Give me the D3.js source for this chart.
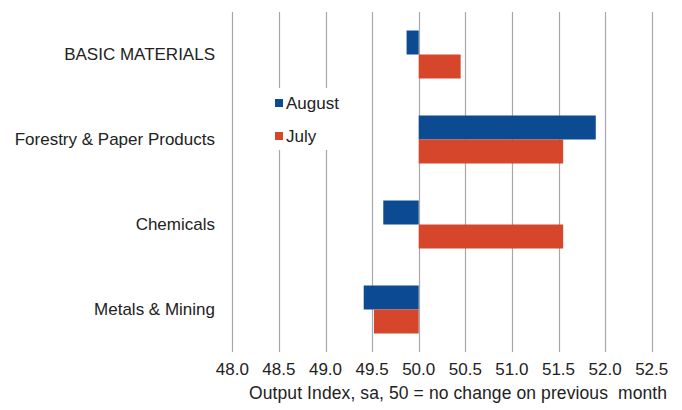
<!DOCTYPE html>
<html><head><meta charset="utf-8">
<script src="https://cdn.jsdelivr.net/npm/d3@7"></script>
<style>body{margin:0;background:#fff;}svg{display:block;font-family:Arial,"Liberation Sans",sans-serif;}</style>
</head><body>
<svg id="chart" width="682" height="410"></svg>
<script>
const categories = ["BASIC MATERIALS", "Forestry & Paper Products", "Chemicals", "Metals & Mining"];
const august = [49.87, 51.90, 49.62, 49.41];
const july = [50.45, 51.55, 51.55, 49.52];
const seriesNames = ["August", "July"];
const seriesColors = ["#0C4A91", "#D5462B"];
const tickValues = [48.0, 48.5, 49.0, 49.5, 50.0, 50.5, 51.0, 51.5, 52.0, 52.5];
const axisTitle = "Output Index, sa, 50 = no change on previous  month";

const svg = d3.select("#chart");
const x = d3.scaleLinear().domain([48, 52.5]).range([232.3, 651.7]);
const y = d3.scaleBand().domain(categories).range([12, 352]).paddingInner(37/85).paddingOuter(37/170);
const ySub = d3.scaleBand().domain(seriesNames).range([0, y.bandwidth()]);

// gridlines
svg.append("g").selectAll("line").data(tickValues).join("line")
  .attr("x1", d => Math.round(x(d)) + 0.5).attr("x2", d => Math.round(x(d)) + 0.5)
  .attr("y1", 12).attr("y2", 352)
  .attr("stroke", "#a8a8a8").attr("stroke-width", 1.2);

// tick labels
svg.append("g").selectAll("text").data(tickValues).join("text")
  .attr("x", d => x(d)).attr("y", 375)
  .attr("text-anchor", "middle").attr("font-size", 17).attr("fill", "#222")
  .text(d => d3.format(".1f")(d));

svg.append("text").attr("x", 458).attr("y", 399).attr("text-anchor", "middle")
  .attr("font-size", 17.5).attr("fill", "#222").style("white-space", "pre")
  .attr("textLength", 418).attr("lengthAdjust", "spacing").text(axisTitle);

// category labels
svg.append("g").selectAll("text").data(categories).join("text")
  .attr("x", 215).attr("y", d => y(d) + y.bandwidth() / 2).attr("dy", "0.35em")
  .attr("text-anchor", "end").attr("font-size", 17).attr("fill", "#222")
  .text(d => d);

// bars
const data = categories.map((c, i) => ({c, vals: [august[i], july[i]]}));
const groups = svg.append("g").selectAll("g").data(data).join("g")
  .attr("transform", d => `translate(0,${y(d.c)})`);
groups.selectAll("rect").data(d => d.vals.map((v, j) => ({v, s: seriesNames[j], j}))).join("rect")
  .attr("x", d => x(Math.min(50, d.v)))
  .attr("width", d => Math.abs(x(d.v) - x(50)))
  .attr("y", d => ySub(d.s)).attr("height", ySub.bandwidth())
  .attr("fill", d => seriesColors[d.j]);

// legend
const lg = svg.append("g");
lg.append("rect").attr("x", 266).attr("y", 88).attr("width", 78).attr("height", 62).attr("fill", "#fff");
seriesNames.forEach((s, i) => {
  const cy = 103 + i * 33;
  lg.append("rect").attr("x", 275).attr("y", cy - 4).attr("width", 8).attr("height", 8).attr("fill", seriesColors[i]);
  lg.append("text").attr("x", 286).attr("y", cy).attr("dy", "0.35em").attr("font-size", 17).attr("fill", "#222").text(s);
});
</script>
</body></html>
